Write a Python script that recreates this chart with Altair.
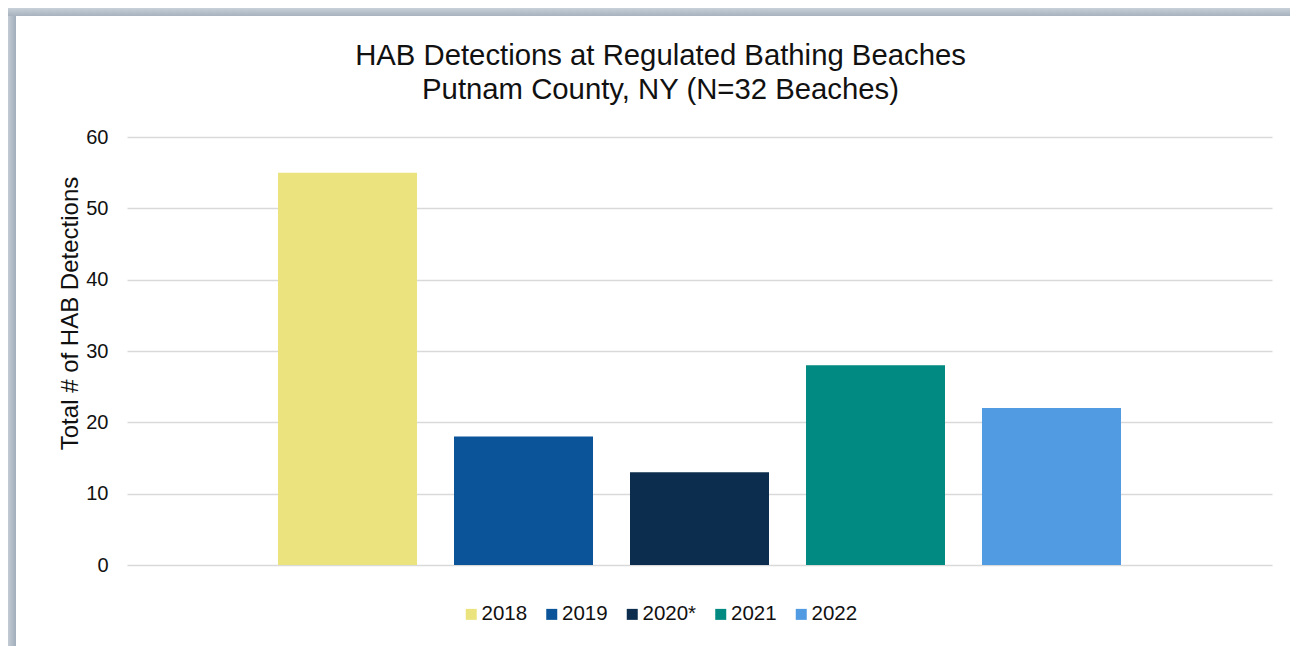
import altair as alt
import pandas as pd

years = ["2018", "2019", "2020*", "2021", "2022"]
detections = [55, 18, 13, 28, 22]
colors = ["#ebe47e", "#0b5499", "#0c2d4d", "#008a81", "#519be3"]
y_ticks = [0, 10, 20, 30, 40, 50, 60]

title_lines = ["HAB Detections at Regulated Bathing Beaches", "Putnam County, NY (N=32 Beaches)"]
y_title = "Total # of HAB Detections"

df = pd.DataFrame({"year": years, "detections": detections})

FONT = "Liberation Sans"

bars = alt.Chart(df).mark_bar().encode(
    x=alt.X("year:N", sort=years, axis=None,
            scale=alt.Scale(paddingInner=0.2102, paddingOuter=0.858)),
    y=alt.Y("detections:Q",
            scale=alt.Scale(domain=[0, 60], nice=False),
            axis=alt.Axis(values=y_ticks, title=y_title, grid=True, ticks=False, tickSize=0,
                          domain=False, labelPadding=19, labelFontSize=20, labelFont=FONT,
                          labelColor="#111111", titleFont=FONT, titleFontSize=24,
                          titleFontWeight="normal", titleColor="#111111",
                          titleAngle=-90, titleAlign="center", titleBaseline="alphabetic",
                          titleX=-50, titleY=176, gridColor="#d9d9d9", gridWidth=1.5)),
    color=alt.Color("year:N", sort=years,
                    scale=alt.Scale(domain=years, range=colors),
                    legend=alt.Legend(title=None, orient="none", direction="horizontal",
                                      legendX=334, legendY=467, symbolType="square",
                                      symbolSize=121, symbolStrokeWidth=0, labelOffset=0,
                                      columnPadding=13.5, labelFont=FONT, labelFontSize=20.5,
                                      labelColor="#111111")),
)

frame_grad = alt.Gradient(gradient="linear", x1=0, x2=1, y1=0, y2=0,
                          stops=[alt.GradientStop(color="#c2cbd4", offset=0),
                                 alt.GradientStop(color="#a1aebb", offset=1)])
frame_grad_top = alt.Gradient(gradient="linear", x1=0, x2=0, y1=0, y2=1,
                              stops=[alt.GradientStop(color="#c8d0d8", offset=0),
                                     alt.GradientStop(color="#a6b2be", offset=1)])

frame_left = alt.Chart(alt.Data(values=[{}])).mark_rect(fill=frame_grad).encode(
    x=alt.value(-119), x2=alt.value(-111), y=alt.value(-129), y2=alt.value(509))
frame_top = alt.Chart(alt.Data(values=[{}])).mark_rect(fill=frame_grad_top).encode(
    x=alt.value(-119), x2=alt.value(1163), y=alt.value(-129), y2=alt.value(-121))

chart = alt.layer(bars, frame_left, frame_top).properties(
    width=1145, height=428,
    padding={"left": 119, "top": 129, "right": 18, "bottom": 81},
    autosize=alt.AutoSizeParams(type="none"),
    title=alt.TitleParams(text=title_lines, font=FONT, fontSize=29.3, fontWeight="normal",
                          color="#111111", lineHeight=33.5, anchor="middle", frame="group",
                          dx=-39, offset=-97),
).configure(background="white").configure_view(stroke="transparent", strokeWidth=0)

chart.save("out.html", embed_options={"renderer": "svg", "actions": False})
